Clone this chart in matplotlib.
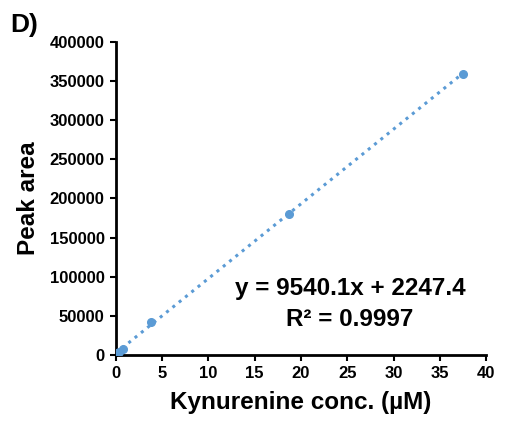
import numpy as np
import matplotlib
matplotlib.use('Agg')
import matplotlib.pyplot as plt

plt.rcParams['font.family'] = ['Liberation Sans', 'DejaVu Sans']
plt.rcParams['font.weight'] = 'bold'

#%% data
conc = [0.15, 0.375, 0.75, 3.75, 18.75, 37.5]
area = [2500, 4200, 7500, 41500, 180500, 359500]
slope = 9540.1
intercept = 2247.4
x_ticks = [0, 5, 10, 15, 20, 25, 30, 35, 40]
y_ticks = [0, 50000, 100000, 150000, 200000, 250000, 300000, 350000, 400000]

blue = '#5B9BD5'

#%% plot
fig = plt.figure(figsize=(5.08, 4.23), dpi=100)
ax = fig.add_axes([0.228, 0.161, 0.729, 0.74])

ax.plot(conc, area, 'o', color=blue, markersize=5.5, zorder=3)
xf = np.array([0, max(conc)])
ax.plot(xf, slope * xf + intercept, ':', color=blue, linewidth=2.2)

ax.set_xlim(0, 40)
ax.set_ylim(0, 400000)
ax.set_xticks(x_ticks)
ax.set_yticks(y_ticks)
ax.tick_params(labelsize=12, width=1.5, length=4, direction='out', pad=4)
for s in ['top', 'right']:
    ax.spines[s].set_visible(False)
for s in ['left', 'bottom']:
    ax.spines[s].set_linewidth(2)

ax.set_xlabel('Kynurenine conc. (µM)', fontsize=17.5, fontweight='bold', labelpad=7)
ax.set_ylabel('Peak area', fontsize=17.5, fontweight='bold', labelpad=7)

ax.text(0.632, 0.163, f'y = {slope}x + {intercept}\nR² = 0.9997', transform=ax.transAxes,
        ha='center', va='center', fontsize=17.5, fontweight='bold', linespacing=1.45)
fig.text(0.02, 0.97, 'D)', fontsize=19, fontweight='bold', va='top', ha='left')

fig.savefig('out.png', dpi=100)
